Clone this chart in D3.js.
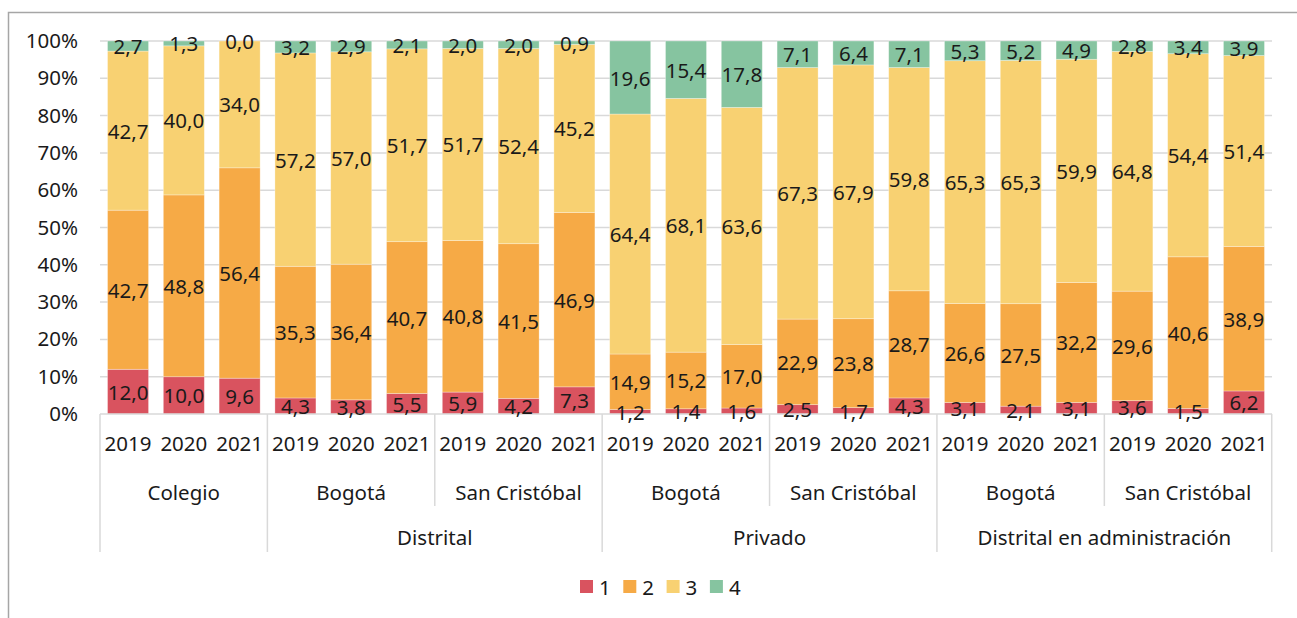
<!DOCTYPE html>
<html>
<head>
<meta charset="utf-8">
<script src="https://cdn.jsdelivr.net/npm/d3@7"></script>
<style>
  body { margin: 0; background: #fff; }
  svg text { font-family: "Noto Sans", "Open Sans", sans-serif; fill: #1a1a1a; }
</style>
</head>
<body>
<div id="container"></div>
<script>
// categories
const years = ["2019", "2020", "2021"];
const subLabels = ["Colegio", "Bogotá", "San Cristóbal", "Bogotá", "San Cristóbal", "Bogotá", "San Cristóbal"];
const groupLabels = ["", "Distrital", "Distrital", "Privado", "Privado", "Distrital en administración", "Distrital en administración"];
const seriesNames = ["1", "2", "3", "4"];
const yTicks = [0, 0.1, 0.2, 0.3, 0.4, 0.5, 0.6, 0.7, 0.8, 0.9, 1];

// series values (one per bar, 21 bars)
const s1 = [12.0, 10.0, 9.6, 4.3, 3.8, 5.5, 5.9, 4.2, 7.3, 1.2, 1.4, 1.6, 2.5, 1.7, 4.3, 3.1, 2.1, 3.1, 3.6, 1.5, 6.2];
const s2 = [42.7, 48.8, 56.4, 35.3, 36.4, 40.7, 40.8, 41.5, 46.9, 14.9, 15.2, 17.0, 22.9, 23.8, 28.7, 26.6, 27.5, 32.2, 29.6, 40.6, 38.9];
const s3 = [42.7, 40.0, 34.0, 57.2, 57.0, 51.7, 51.7, 52.4, 45.2, 64.4, 68.1, 63.6, 67.3, 67.9, 59.8, 65.3, 65.3, 59.9, 64.8, 54.4, 51.4];
const s4 = [2.7, 1.3, 0.0, 3.2, 2.9, 2.1, 2.0, 2.0, 0.9, 19.6, 15.4, 17.8, 7.1, 6.4, 7.1, 5.3, 5.2, 4.9, 2.8, 3.4, 3.9];

const colors = ["#d9535f", "#f6aa46", "#f8d172", "#86c4a0"];

const W = 1297, H = 618;
const plotLeft = 100, plotRight = 1272, plotTop = 41, plotBottom = 414;
const fontSize = '20.5px';

const svg = d3.select('#container')
  .append('svg')
  .attr("width", W)
  .attr("height", H);

// chart border
svg.append('path')
  .attr('d', `M8.5,${H + 5} V12.5 H${W + 5}`)
  .attr('fill', 'none')
  .attr('stroke', '#a6a6a6')
  .attr('stroke-width', 1.5);

// table for the stack
const table = s1.map((v, i) => ({ i: i, "1": v, "2": s2[i], "3": s3[i], "4": s4[i] }));
const stacked = d3.stack().keys(seriesNames).offset(d3.stackOffsetExpand)(table);

const x = d3.scaleBand()
  .domain(d3.range(table.length))
  .range([plotLeft, plotRight])
  .paddingInner(0.265)
  .paddingOuter(0.135);

const y = d3.scaleLinear().domain([0, 1]).range([plotBottom, plotTop]);

// gridlines
svg.append('g')
  .selectAll('line')
  .data(yTicks.slice(1))
  .enter()
  .append('line')
  .attr('x1', plotLeft).attr('x2', plotRight)
  .attr('y1', d => y(d)).attr('y2', d => y(d))
  .attr('stroke', '#d9d9d9')
  .attr('stroke-width', 1.5);

// y axis labels
const yAxis = svg.append('g')
  .attr('transform', `translate(${plotLeft},0)`)
  .call(d3.axisLeft(y).tickValues(yTicks).tickFormat(d3.format(".0%")).tickSize(0).tickPadding(22));
yAxis.select('.domain').remove();
yAxis.selectAll('text').style('font-size', fontSize).attr('fill', '#1a1a1a');

// bars
const layers = svg.append('g')
  .selectAll('g')
  .data(stacked)
  .enter()
  .append('g')
  .attr('fill', (d, k) => colors[k]);

layers.selectAll('rect')
  .data(d => d)
  .enter()
  .append('rect')
  .attr('x', d => x(d.data.i))
  .attr('width', x.bandwidth())
  .attr('y', d => y(d[1]))
  .attr('height', d => y(d[0]) - y(d[1]))
  .attr('stroke', '#ffffff')
  .attr('stroke-opacity', 0.4)
  .attr('stroke-width', 0.75);

// baseline
svg.append('line')
  .attr('x1', plotLeft).attr('x2', plotRight)
  .attr('y1', plotBottom).attr('y2', plotBottom)
  .attr('stroke', '#d9d9d9')
  .attr('stroke-width', 1.5);

// data labels
const fmt = v => d3.format(".1f")(v).replace(".", ",");
stacked.forEach((layer, k) => {
  svg.append('g')
    .selectAll('text')
    .data(layer)
    .enter()
    .append('text')
    .attr('x', d => x(d.data.i) + x.bandwidth() / 2)
    .attr('y', d => (y(d[0]) + y(d[1])) / 2)
    .attr('text-anchor', 'middle')
    .attr('dominant-baseline', 'central')
    .style('font-size', fontSize)
    .text(d => fmt(d.data[seriesNames[k]]));
});

// category axis
const step = x.step();
const blockX = b => plotLeft + b * 3 * step;

svg.append('g')
  .selectAll('text')
  .data(d3.range(table.length))
  .enter()
  .append('text')
  .attr('x', i => x(i) + x.bandwidth() / 2)
  .attr('y', 443)
  .attr('text-anchor', 'middle')
  .attr('dominant-baseline', 'central')
  .style('font-size', fontSize)
  .text(i => years[i % 3]);

svg.append('g')
  .selectAll('text')
  .data(subLabels)
  .enter()
  .append('text')
  .attr('x', (d, b) => blockX(b) + 1.5 * step)
  .attr('y', 492)
  .attr('text-anchor', 'middle')
  .attr('dominant-baseline', 'central')
  .style('font-size', fontSize)
  .text(d => d);

// group labels spanning consecutive blocks
const spans = [];
groupLabels.forEach((g, b) => {
  if (spans.length && spans[spans.length - 1].name === g) spans[spans.length - 1].end = b + 1;
  else spans.push({ name: g, start: b, end: b + 1 });
});

svg.append('g')
  .selectAll('text')
  .data(spans)
  .enter()
  .append('text')
  .attr('x', d => (blockX(d.start) + blockX(d.end)) / 2)
  .attr('y', 537)
  .attr('text-anchor', 'middle')
  .attr('dominant-baseline', 'central')
  .style('font-size', fontSize)
  .text(d => d.name);

// separators
const sepData = d3.range(subLabels.length + 1).map(b => {
  const major = b === 0 || b === subLabels.length || groupLabels[b] !== groupLabels[b - 1];
  return { b: b, major: major };
});
svg.append('g')
  .selectAll('line')
  .data(sepData)
  .enter()
  .append('line')
  .attr('x1', d => blockX(d.b)).attr('x2', d => blockX(d.b))
  .attr('y1', plotBottom)
  .attr('y2', d => d.major ? 552 : 506)
  .attr('stroke', '#d9d9d9')
  .attr('stroke-width', 1.5);

// legend
const legend = svg.append('g')
  .selectAll('g')
  .data(seriesNames)
  .enter()
  .append('g')
  .attr('transform', (d, k) => `translate(${580 + k * 43.3},580)`);

legend.append('rect')
  .attr('width', 13).attr('height', 13)
  .attr('fill', (d, k) => colors[k]);

legend.append('text')
  .attr('x', 19).attr('y', 7)
  .attr('dominant-baseline', 'central')
  .style('font-size', fontSize)
  .text(d => d);
</script>
</body>
</html>
